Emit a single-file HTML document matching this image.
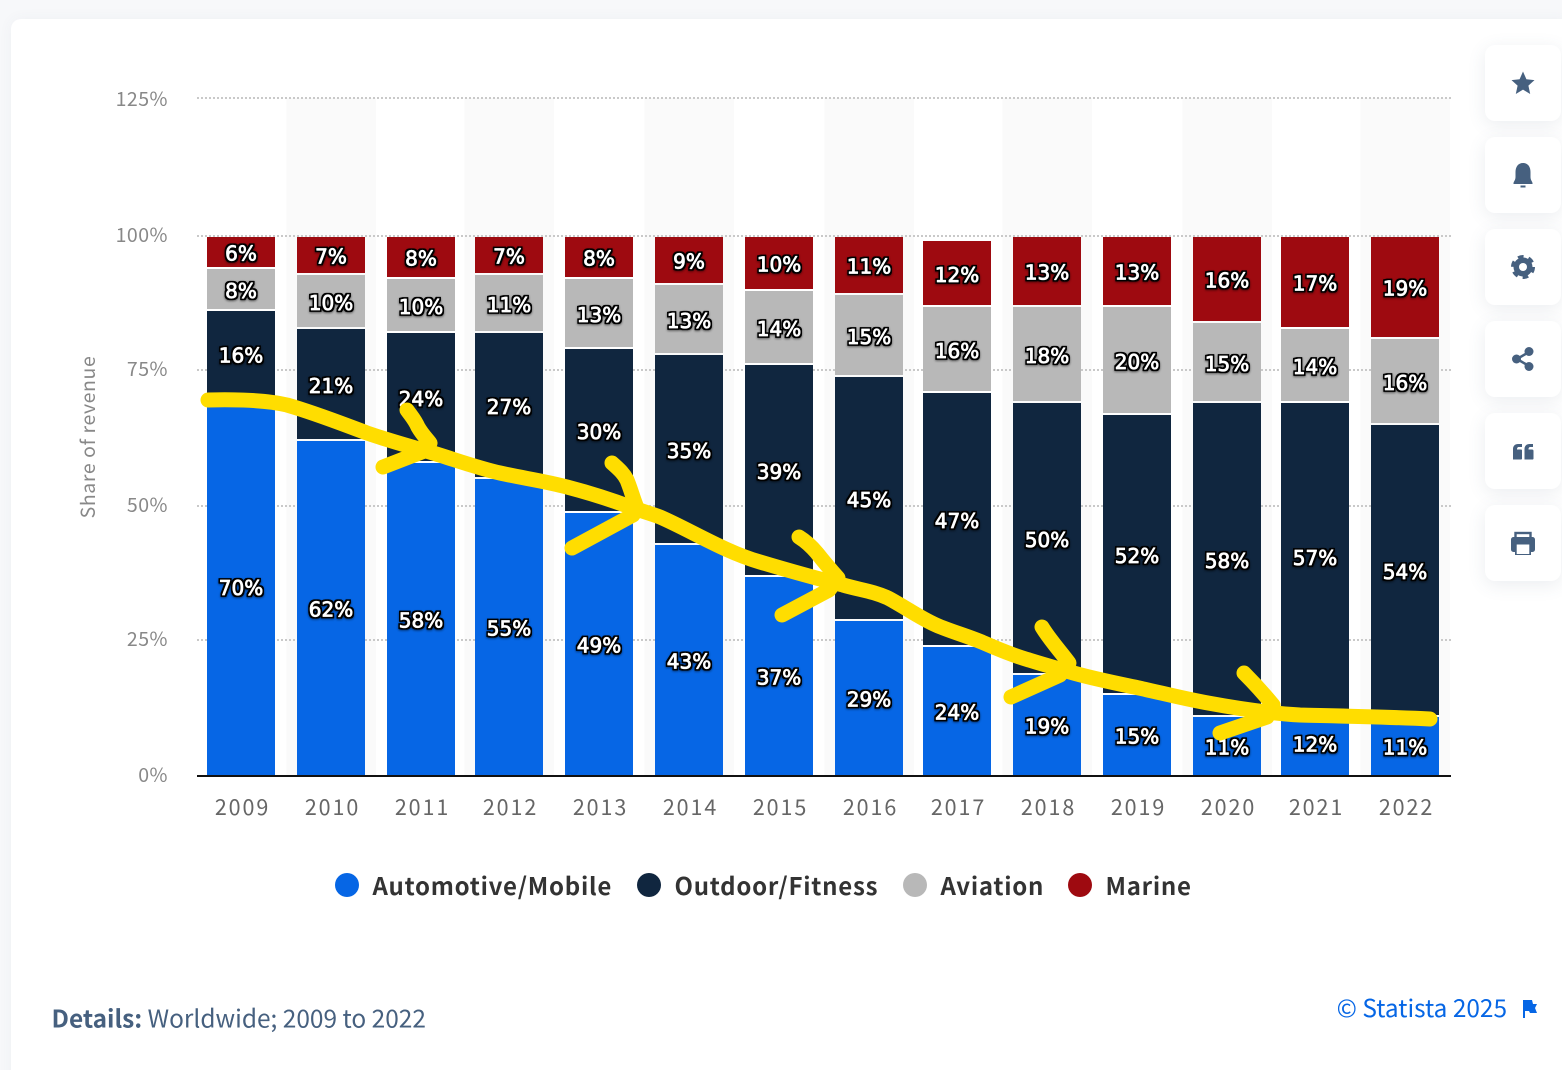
<!DOCTYPE html>
<html lang="en">
<head>
<meta charset="utf-8">
<title>Share of revenue by segment, 2009 to 2022</title>
<style>
  html, body { margin: 0; padding: 0; width: 1562px; height: 1070px; overflow: hidden; background: #f7f8fa; }
  #page { position: absolute; left: 0; top: 0; width: 1562px; height: 1070px; overflow: hidden; }
  #card { position: absolute; left: 11px; top: 19px; width: 1560px; height: 1070px; background: #fff; border-radius: 10px; box-shadow: 0 0 14px rgba(70,90,120,.05); }
  .side-btn { position: absolute; left: 1485px; width: 76px; height: 76px; background: #fff; border-radius: 10px; box-shadow: 0 4px 18px rgba(70,90,120,.11); }
  .side-btn svg { position: absolute; left: 0; top: 0; }
  #chart { position: absolute; left: 0; top: 0; }
  .ui { font-family: "Noto Sans CJK JP", "Liberation Sans", sans-serif; }
  .seg-label { font-family: "DejaVu Sans", "Liberation Sans", sans-serif; font-weight: 400; font-size: 20px; fill: #fff; stroke: #fff; stroke-width: 0.8px; stroke-linejoin: round; text-anchor: middle; }
</style>
</head>
<body>
<div id="page">
<div id="card"></div>

<svg id="chart" width="1562" height="1070" viewBox="0 0 1562 1070" xmlns="http://www.w3.org/2000/svg">
  <defs>
    <filter id="label-outline" filterUnits="userSpaceOnUse" x="0" y="0" width="1562" height="1070" color-interpolation-filters="sRGB">
      <feMorphology in="SourceAlpha" operator="dilate" radius="1.3" result="fat"></feMorphology>
      <feFlood flood-color="#000" result="ink"></feFlood>
      <feComposite in="ink" in2="fat" operator="in" result="outline"></feComposite>
      <feGaussianBlur in="outline" stdDeviation="0.35" result="soft"></feGaussianBlur>
      <feOffset in="fat" dy="1" result="low"></feOffset>
      <feGaussianBlur in="low" stdDeviation="1" result="lowBlur"></feGaussianBlur>
      <feComponentTransfer in="lowBlur" result="shadow"><feFuncA type="linear" slope="0.5"></feFuncA></feComponentTransfer>
      <feMerge>
        <feMergeNode in="shadow"></feMergeNode>
        <feMergeNode in="soft"></feMergeNode>
        <feMergeNode in="SourceGraphic"></feMergeNode>
      </feMerge>
    </filter>
  </defs>
  <g id="bands"></g>
  <g id="grid"></g>
  <g id="bars"></g>
  <line x1="197" y1="776" x2="1451" y2="776" stroke="#111" stroke-width="2"></line>
  <g id="ylabels"></g>
  <g id="xlabels"></g>
  <text class="ui" x="0" y="0" transform="translate(95 437) rotate(-90)" text-anchor="middle" font-size="19.500" letter-spacing="0.6" fill="#888">Share of revenue</text>
  <g id="labels" filter="url(#label-outline)"></g>
  <g id="legend"></g>

  <g fill="none" stroke="#ffdd00" stroke-width="15" stroke-linecap="round" stroke-linejoin="round">
    <path d="M208 400 C222 399.500 262 399 287 405 C315 413 340 423 367 433 C390 441 412 447 433 453 C456 460 478 468 500 473 C522 478 545 481 567 487 C590 493 612 500 633 508 C645 512 652 514 660 517 C690 530 725 552 760 562 C790 571 815 578 843 585 C860 590 873 591 888 598 C905 607 920 618 936 625 C952 632 968 636 984 643 C1000 650 1015 656 1029 660 C1045 665 1056 668 1070 672 C1090 678 1115 683 1139 688 C1162 693 1185 699 1208 703 C1235 708 1265 713 1300 715 C1340 716 1390 717 1430 719"></path>
    <path d="M407 410 C412 417 415 420 418 427 C422 434 426 438 430 443 L427 450 L383 467"></path>
    <path d="M612 463 C620 470 624 474 627 480 C631 490 633 498 637 508 L633 515 L572 548"></path>
    <path d="M799 537 C807 542 812 547 817 553 C824 562 830 569 838 578 L829 590 L782 615"></path>
    <path d="M1042 627 C1050 640 1060 651 1069 663 L1060 675 L1011 697"></path>
    <path d="M1244 673 C1254 683 1264 694 1273 705 L1267 717 L1220 733"></path>
  </g>

  <text class="ui" x="51.500" y="1027.500" font-size="24.450" fill="#46607f"><tspan font-weight="700">Details:</tspan> Worldwide; 2009 to 2022</text>
  <text class="ui" x="1507" y="1017" text-anchor="end" font-size="24.400" fill="#0666e5">© Statista 2025</text>
  <g>
    <rect x="1523" y="1000" width="2" height="18" fill="#0666e5"></rect>
    <polygon points="1525,1000 1532,1000 1533,1004 1537,1004 1535,1008 1537,1013 1530,1013 1529,1011 1525,1011" fill="#0666e5"></polygon>
  </g>
</svg>

<div class="side-btn" style="top:45px">
  <svg width="76" height="76" viewBox="0 0 76 76"><polygon fill="#46607f" points="38,26.500 41.400,34.300 49.500,35.100 43.400,40.600 45.200,49 38,44.600 30.800,49 32.600,40.600 26.500,35.100 34.600,34.300"></polygon></svg>
</div>
<div class="side-btn" style="top:137px">
  <svg width="76" height="76" viewBox="0 0 76 76"><g fill="#46607f"><path d="M38 26 C33 26 30.500 30 30.500 35 L30.500 40 C30.500 43 29 44 28.500 46 L28.500 47 L47.500 47 L47.500 46 C47 44 45.500 43 45.500 40 L45.500 35 C45.500 30 43 26 38 26 Z"></path><rect x="35.500" y="48.500" width="5" height="2"></rect></g></svg>
</div>
<div class="side-btn" style="top:229px">
  <svg width="76" height="76" viewBox="0 0 76 76"><g><circle cx="38" cy="38" r="9.500" fill="#46607f"></circle><circle cx="38" cy="38" r="10" fill="none" stroke="#46607f" stroke-width="4" stroke-dasharray="5.500 4.970"></circle><circle cx="38" cy="38" r="4" fill="#fff"></circle></g></svg>
</div>
<div class="side-btn" style="top:321px">
  <svg width="76" height="76" viewBox="0 0 76 76"><g fill="#46607f" stroke="#46607f"><line x1="32" y1="38" x2="44" y2="31" stroke-width="2.500"></line><line x1="32" y1="38" x2="44" y2="45" stroke-width="2.500"></line><circle cx="31.500" cy="38" r="4.500" stroke="none"></circle><circle cx="44" cy="30.500" r="4.500" stroke="none"></circle><circle cx="44" cy="45.500" r="4.500" stroke="none"></circle></g></svg>
</div>
<div class="side-btn" style="top:413px">
  <svg width="76" height="76" viewBox="0 0 76 76"><g fill="#46607f"><path d="M28 46.500 L28 36 C28 33 30 31 33 31 L37 31 L37 34 L34 34 C32.500 34 32 35 32 36.500 L36 36.500 C37 36.500 37 37 37 38 L37 45.500 C37 46.200 36.500 46.500 36 46.500 Z"></path><path d="M39.500 46.500 L39.500 36 C39.500 33 41.500 31 44.500 31 L48 31 L48 34 L45.500 34 C44 34 43.500 35 43.500 36.500 L47 36.500 C48 36.500 48.500 37 48.500 38 L48.500 45.500 C48.500 46.200 48 46.500 47.500 46.500 Z"></path></g></svg>
</div>
<div class="side-btn" style="top:505px">
  <svg width="76" height="76" viewBox="0 0 76 76"><g><rect x="30.500" y="28" width="15" height="6" fill="none" stroke="#46607f" stroke-width="2.400"></rect><rect x="26" y="32" width="24" height="15" rx="2.500" fill="#46607f"></rect><rect x="30" y="38" width="16" height="12" fill="#46607f"></rect><rect x="31.700" y="39.500" width="12.600" height="9.500" fill="#fff"></rect></g></svg>
</div>
</div>

<script>
var years = ['2009','2010','2011','2012','2013','2014','2015','2016','2017','2018','2019','2020','2021','2022'];
var automotive = [70,62.04,57.96,55,48.7,42.78,36.85,28.7,23.89,18.7,15,10.93,12,11];
var outdoor    = [16.11,20.74,24.08,27.04,30.37,35.18,39.26,45.19,47.04,50.37,51.85,58.14,57.07,54];
var aviation   = [7.78,10,10,10.74,12.97,12.97,13.7,15.18,15.92,17.78,20,14.82,13.71,15.93];
var marine     = [6.11,7.22,7.96,7.22,7.96,9.07,10.19,10.93,12.22,13.15,13.15,16.11,17.22,19.07];
var seriesNames = ['Automotive/Mobile','Outdoor/Fitness','Aviation','Marine'];
var yTicks = [0,25,50,75,100,125];

var SVGNS = 'http://www.w3.org/2000/svg';
var seriesValues = [automotive, outdoor, aviation, marine];
var seriesColors = ['#0666e5','#10263f','#b8b8b8','#9e0a10'];
var legendDotX = [347,649,915,1080];
var legendTextX = [372.5,674.5,940.5,1105.5];

function yScale(v) {
  return v <= 100 ? 776 - 5.4 * v : 236 - 5.52 * (v - 100);
}
function snap(py) {
  return 2 * Math.floor(py / 2);
}
function barLeft(i) {
  return 2 * Math.floor((207 + 89.58 * i) / 2) + 1;
}
function make(tag, attrs, parent) {
  var el = document.createElementNS(SVGNS, tag);
  for (var k in attrs) el.setAttribute(k, attrs[k]);
  parent.appendChild(el);
  return el;
}
function slug(s) {
  return s.toLowerCase().replace(/[^a-z0-9]+/g, '-');
}

var bandsG = document.getElementById('bands');
var gridG = document.getElementById('grid');
var barsG = document.getElementById('bars');
var labelsG = document.getElementById('labels');
var xG = document.getElementById('xlabels');
var yG = document.getElementById('ylabels');
var legendG = document.getElementById('legend');

years.forEach(function (year, i) {
  if (i % 2 === 1) {
    var band = make('rect', { x: barLeft(i) - 10.5, y: yScale(125), width: 89.5, height: yScale(0) - yScale(125), fill: '#fafafa' }, bandsG);
    
    
  }
});

yTicks.forEach(function (t) {
  var py = snap(yScale(t));
  if (t !== 0) {
    var line = make('line', { x1: 197, x2: 1451, y1: py, y2: py, stroke: '#c9c9c9', 'stroke-width': 2, 'stroke-dasharray': '2 2' }, gridG);
    
    
  }
  var label = make('text', { x: 168, y: py + (t > 100 ? 8 : 6), 'text-anchor': 'end', 'font-size': 19.5, 'letter-spacing': 0.5, fill: '#888', 'class': 'ui' }, yG);
  label.textContent = t + '%';
  
  
});

years.forEach(function (year, i) {
  var left = barLeft(i);
  var base = 0;
  seriesValues.forEach(function (values, s) {
    var v = values[i];
    var bottom = snap(yScale(base));
    var top = snap(yScale(base + v));
    var rect = make('rect', {
      x: left,
      y: top + 1,
      width: 68,
      height: bottom - top - (s === 0 ? 1 : 2),
      fill: seriesColors[s],
      'shape-rendering': 'crispEdges'
    }, barsG);
    
    

    var text = make('text', { x: left + 34, y: (yScale(base) + yScale(base + v)) / 2 + 8, 'class': 'seg-label' }, labelsG);
    text.textContent = Math.round(v) + '%';
    
    
    base += v;
  });

  var tick = make('text', { x: left + 35.5, y: 815, 'text-anchor': 'middle', 'font-size': 21.5, 'letter-spacing': 1.9, fill: '#666', 'class': 'ui' }, xG);
  tick.textContent = year;
  
  
});

seriesNames.forEach(function (name, s) {
  var entry = make('g', {}, legendG);
  
  
  var dot = make('circle', { cx: legendDotX[s], cy: 885, r: 12, fill: seriesColors[s] }, entry);
  
  
  var text = make('text', { x: legendTextX[s], y: 895, 'font-size': 24, 'font-weight': 700, 'letter-spacing': 0.75, fill: '#333', 'class': 'ui' }, entry);
  text.textContent = name;
  
  
});
</script>
</body>
</html>
